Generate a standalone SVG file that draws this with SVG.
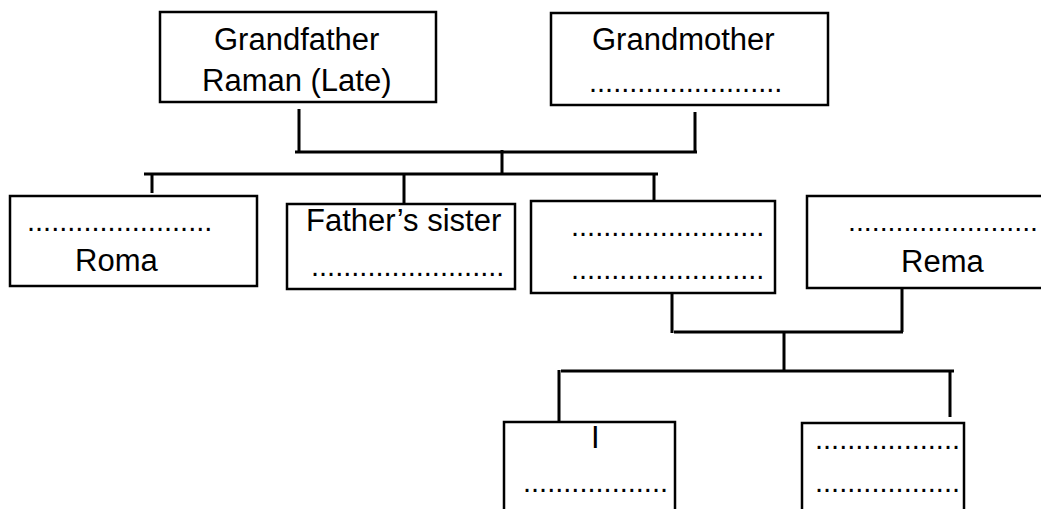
<svg xmlns="http://www.w3.org/2000/svg" width="1041" height="509" viewBox="0 0 1041 509">
<style>
.box{fill:#fff;stroke:#000;stroke-width:2.5}
.ln{stroke:#000;stroke-width:3;fill:none}
text{font-family:"Liberation Sans",Arial,sans-serif;font-size:31px;fill:#000}
text.d{font-size:29px}
</style>
<rect width="1041" height="509" fill="#fff"/>
<g id="connectors" class="ln">
<path d="M299,109V152M295,152H697M695,112V152"/>
<path d="M502,150V174M144,174H658"/>
<path d="M152,174V193M404,174V203M654,174V203"/>
<path d="M672,290V333M674,332H903M902,283V332"/>
<path d="M784,332V371M561,371H954M559,370V421M950,372V417"/>
</g>
<g id="grandfather"><rect class="box" x="160" y="12" width="276" height="90"/>
<text x="214" y="50">Grandfather</text><text x="202" y="91">Raman (Late)</text></g>
<g id="grandmother"><rect class="box" x="551" y="13" width="277" height="92"/>
<text x="592" y="50">Grandmother</text><text class="d" x="589" y="92">........................</text></g>
<g id="roma"><rect class="box" x="10" y="196" width="247" height="90"/>
<text class="d" x="27" y="231">.......................</text><text x="75" y="271">Roma</text></g>
<g id="fathers-sister"><rect class="box" x="287" y="204" width="228" height="85"/>
<text x="306" y="231">Father’s sister</text><text class="d" x="311" y="276">........................</text></g>
<g id="father"><rect class="box" x="531" y="201" width="244" height="92"/>
<text class="d" x="571" y="236">........................</text><text class="d" x="571" y="279">........................</text></g>
<g id="rema"><rect class="box" x="807" y="196" width="240" height="92"/>
<text class="d" x="848" y="231" style="font-size:28.5px">........................</text><text x="901" y="272">Rema</text></g>
<g id="me"><rect class="box" x="504" y="422" width="171" height="100"/>
<text x="591" y="448">I</text><text class="d" x="523" y="492">..................</text></g>
<g id="sibling"><rect class="box" x="802" y="423" width="162" height="100"/>
<text class="d" x="815" y="449">..................</text><text class="d" x="815" y="492">..................</text></g>
</svg>
